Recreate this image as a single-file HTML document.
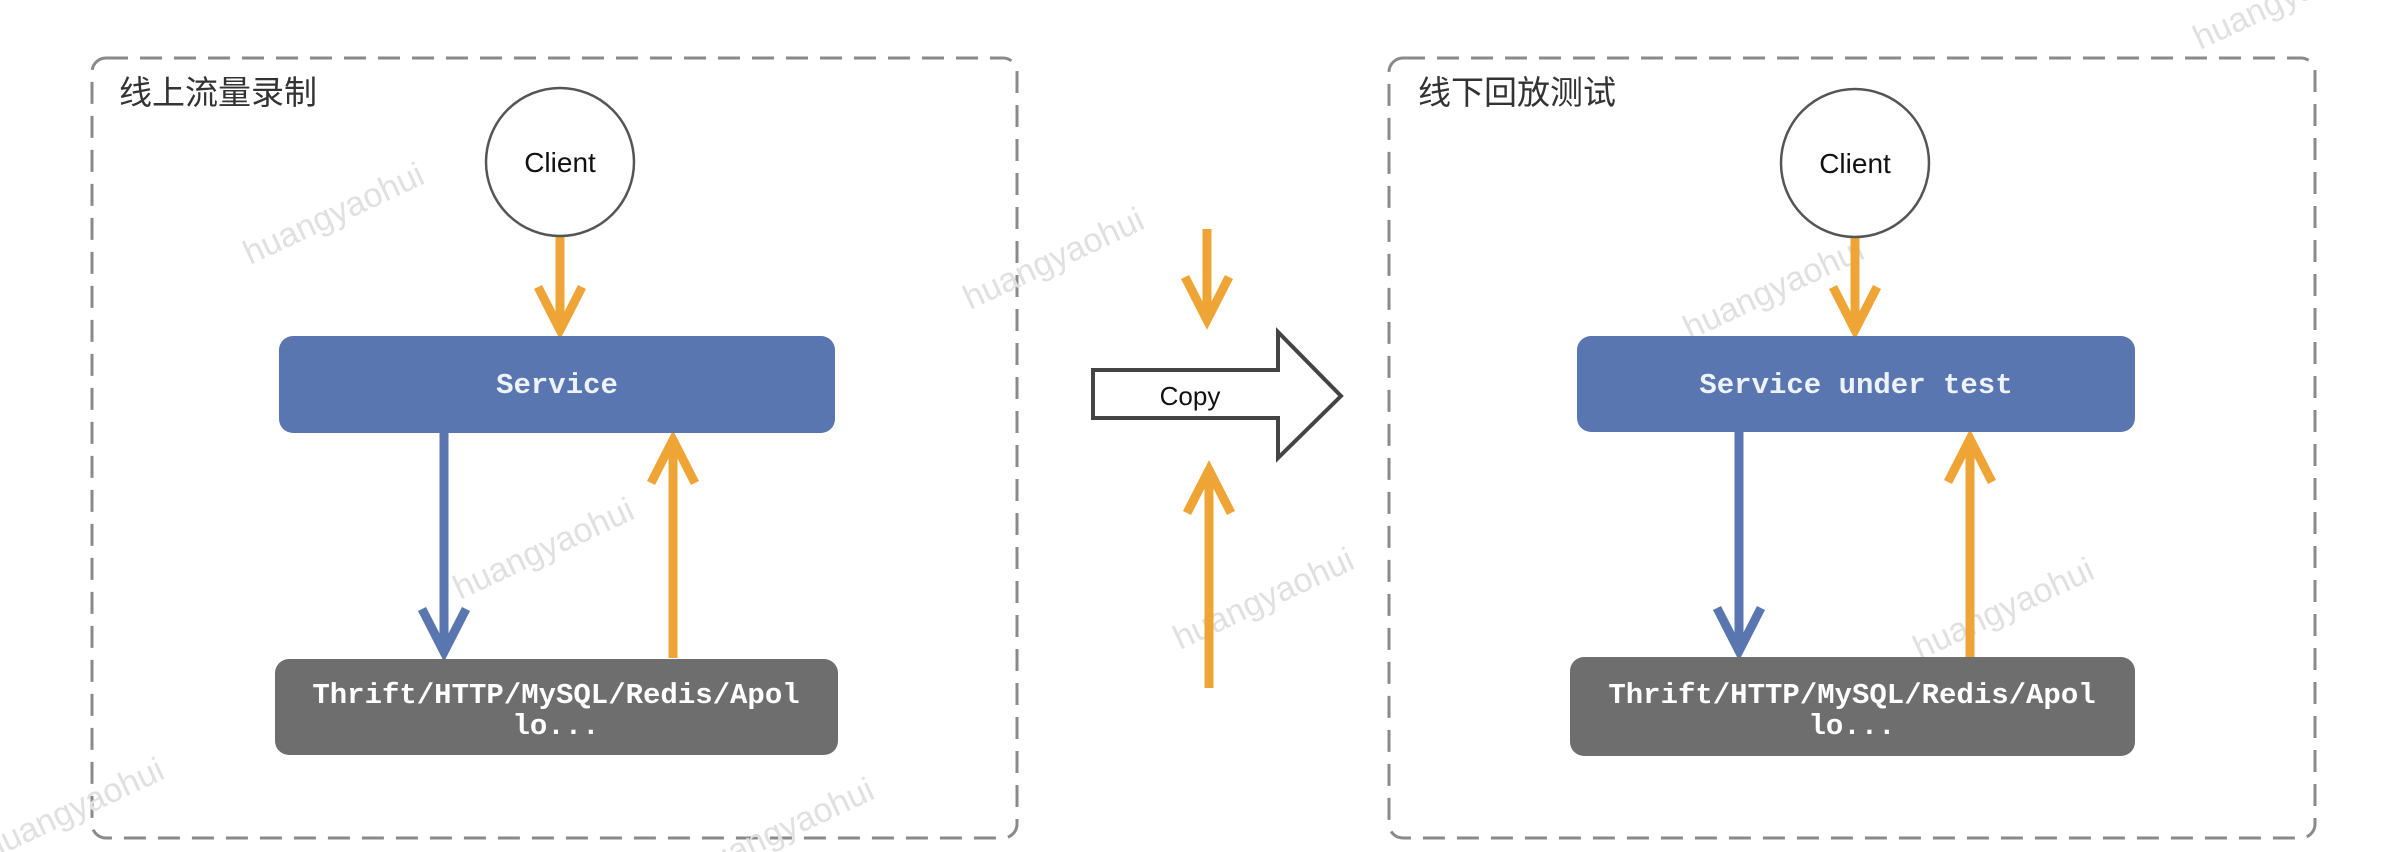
<!DOCTYPE html>
<html><head><meta charset="utf-8"><style>
html,body{margin:0;padding:0;background:#fff;width:2398px;height:852px;overflow:hidden}
svg{display:block}
.m{font-family:"Liberation Mono",monospace;font-weight:bold;font-size:29px;text-anchor:middle}
.s{font-family:"Liberation Sans",sans-serif;font-size:28px;text-anchor:middle;fill:#111}
.t{font-family:"Liberation Sans","Noto Sans CJK SC",sans-serif;font-size:33px;fill:#333}
.w{font-family:"Liberation Sans",sans-serif;font-size:34px;fill:#e0e0e0}
</style></head><body>
<svg width="2398" height="852" viewBox="0 0 2398 852" xmlns="http://www.w3.org/2000/svg">
<g fill="none" stroke="#8a8a8a" stroke-width="3" stroke-dasharray="22 12">
<rect x="92" y="58" width="925" height="780" rx="14"/>
<rect x="1389" y="58" width="926" height="780" rx="14"/>
</g>
<text class="t" x="119" y="104">线上流量录制</text>
<text class="t" x="1418" y="104">线下回放测试</text>

<g class="w">
<text transform="translate(250,265) rotate(-25)">huangyaohui</text>
<text transform="translate(970,310) rotate(-25)">huangyaohui</text>
<text transform="translate(460,600) rotate(-25)">huangyaohui</text>
<text transform="translate(1180,650) rotate(-25)">huangyaohui</text>
<text transform="translate(1690,340) rotate(-25)">huangyaohui</text>
<text transform="translate(1920,660) rotate(-25)">huangyaohui</text>
<text transform="translate(-10,860) rotate(-25)">huangyaohui</text>
<text transform="translate(700,880) rotate(-25)">huangyaohui</text>
<text transform="translate(2200,50) rotate(-25)">huangyaohui</text>
</g>

<g stroke-linecap="butt" stroke-linejoin="miter" fill="none" stroke-width="9">
<line x1="560" y1="236" x2="560" y2="330" stroke="#efa535"/>
<polyline points="538,287 560,330 582,287" stroke="#efa535"/>
<line x1="444" y1="433" x2="444" y2="652" stroke="#5a76b0"/>
<polyline points="422,609 444,652 466,609" stroke="#5a76b0"/>
<line x1="673" y1="658" x2="673" y2="440" stroke="#efa535"/>
<polyline points="651,483 673,440 695,483" stroke="#efa535"/>
<line x1="1207" y1="229" x2="1207" y2="318" stroke="#efa535"/>
<polyline points="1185,277 1207,320 1229,277" stroke="#efa535"/>
<line x1="1209" y1="688" x2="1209" y2="470" stroke="#efa535"/>
<polyline points="1187,513 1209,470 1231,513" stroke="#efa535"/>
<line x1="1855" y1="238" x2="1855" y2="330" stroke="#efa535"/>
<polyline points="1833,287 1855,330 1877,287" stroke="#efa535"/>
<line x1="1739" y1="432" x2="1739" y2="651" stroke="#5a76b0"/>
<polyline points="1717,608 1739,651 1761,608" stroke="#5a76b0"/>
<line x1="1970" y1="657" x2="1970" y2="439" stroke="#efa535"/>
<polyline points="1948,482 1970,439 1992,482" stroke="#efa535"/>
</g>

<circle cx="560" cy="162" r="74" fill="#fff" stroke="#555" stroke-width="2.5"/>
<text class="s" x="560" y="172">Client</text>
<circle cx="1855" cy="163" r="74" fill="#fff" stroke="#555" stroke-width="2.5"/>
<text class="s" x="1855" y="173">Client</text>

<rect x="279" y="336" width="556" height="97" rx="14" fill="#5a76b0"/>
<text class="m" x="557" y="393" fill="#eef2fa">Service</text>
<rect x="1577" y="336" width="558" height="96" rx="14" fill="#5a76b0"/>
<text class="m" x="1856" y="393" fill="#eef2fa">Service under test</text>

<rect x="275" y="659" width="563" height="96" rx="14" fill="#6e6e6e"/>
<text class="m" x="556" y="703" fill="#fff">Thrift/HTTP/MySQL/Redis/Apol</text>
<text class="m" x="556" y="734" fill="#fff">lo...</text>
<rect x="1570" y="657" width="565" height="99" rx="14" fill="#6e6e6e"/>
<text class="m" x="1852" y="703" fill="#fff">Thrift/HTTP/MySQL/Redis/Apol</text>
<text class="m" x="1852" y="734" fill="#fff">lo...</text>

<polygon points="1093,370 1278,370 1278,332 1341,396 1278,458 1278,418 1093,418" fill="#fff" stroke="#444" stroke-width="4"/>
<text class="s" x="1190" y="405" style="font-size:26px">Copy</text>
</svg>
</body></html>
